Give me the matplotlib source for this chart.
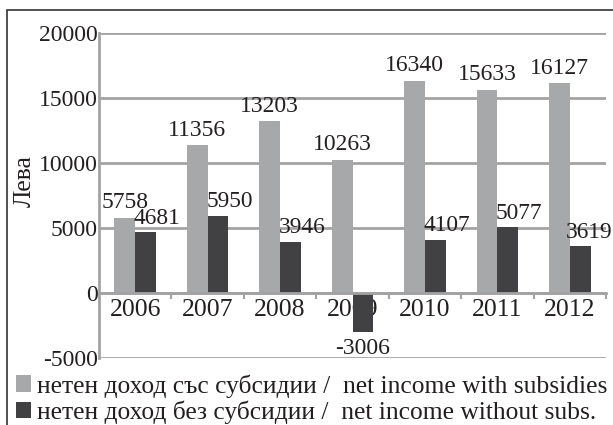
import matplotlib
matplotlib.use("Agg")
import matplotlib.pyplot as plt
import numpy as np
from matplotlib.patches import Rectangle

years = ["2006", "2007", "2008", "2009", "2010", "2011", "2012"]
with_subs = [5758, 11356, 13203, 10263, 16340, 15633, 16127]
without_subs = [4681, 5950, 3946, -3006, 4107, 5077, 3619]
yticks = [-5000, 0, 5000, 10000, 15000, 20000]
label_with = "нетен доход със субсидии /  net income with subsidies"
label_without = "нетен доход без субсидии /  net income without subs."
ylabel = "Лева"

LIGHT = "#a7a8aa"
DARK = "#414143"
GRID = "#a3a3a3"
TXT = "#231f20"
FAM = "Liberation Serif"

plt.rcParams["font.family"] = FAM

W, H = 613, 425
fig = plt.figure(figsize=(W / 100, H / 100), dpi=100)
ax = fig.add_axes([99 / W, 1 - 358 / H, 507 / W, 325 / H])

x = np.arange(len(years))
bw = 0.286
b1 = ax.bar(x - bw / 2, with_subs, bw, color=LIGHT, label=label_with, zorder=3)
b2 = ax.bar(x + bw / 2, without_subs, bw, color=DARK, label=label_without, zorder=3)

ax.set_xlim(-0.5, len(years) - 0.5)
ax.set_ylim(yticks[0], yticks[-1])
ax.set_yticks(yticks)
ax.set_yticklabels([str(v) for v in yticks])
ax.tick_params(axis="y", length=0, pad=1, labelsize=17, labelcolor=TXT)
ax.yaxis.grid(True, color=GRID, linewidth=2, zorder=0)
ax.set_axisbelow(True)

ax.set_xticks(x)
ax.set_xticklabels(years)
ax.set_xticks(np.arange(len(years) + 1) - 0.5, minor=True)
ax.tick_params(axis="x", which="major", length=0, pad=4, labelsize=18.5, labelcolor=TXT)
ax.tick_params(axis="x", which="minor", length=4, width=1.5, color=GRID, direction="out")
for t in ax.get_xticklabels() + ax.get_yticklabels():
    t.set_family(FAM)

for s in ["top", "right"]:
    ax.spines[s].set_visible(False)
ax.spines["bottom"].set_position(("data", 0))
ax.spines["bottom"].set_color(GRID)
ax.spines["bottom"].set_linewidth(2)
ax.spines["bottom"].set_zorder(4)
ax.spines["left"].set_color(GRID)
ax.spines["left"].set_linewidth(2)

ax.set_ylabel(ylabel, fontsize=18.5, color=TXT, family=FAM)
ax.yaxis.set_label_coords(-0.124, 0.545)

# data labels
labels = []
for rect, v in zip(b1, with_subs):
    labels.append(ax.annotate(str(v), (rect.get_x() + rect.get_width() / 2, v),
                  xytext=(0, 7), textcoords="offset points", family=FAM,
                  ha="center", va="baseline", fontsize=17, color=TXT, zorder=5))
for rect, v in zip(b2, without_subs):
    if v >= 0:
        labels.append(ax.annotate(str(v), (rect.get_x(), v),
                      xytext=(-1, 6), textcoords="offset points", family=FAM,
                      ha="left", va="baseline", fontsize=16.8, color=TXT, zorder=5))
    else:
        labels.append(ax.annotate(str(v), (rect.get_x() + rect.get_width() / 2, v),
                      xytext=(0, -4), textcoords="offset points", family=FAM,
                      ha="center", va="top", fontsize=17, color=TXT, zorder=5))

leg = fig.legend(handles=[b1, b2], loc="upper left",
                 bbox_to_anchor=(16 / W, 1 - 374 / H),
                 frameon=False, prop={"family": FAM, "size": 18.4},
                 handlelength=0.59, handleheight=0.59, handletextpad=0.22,
                 labelspacing=0.1, borderpad=0, borderaxespad=0)
for t in leg.get_texts():
    t.set_color(TXT)

# keep data labels inside the figure's right edge (as in the reference)
fig.canvas.draw()
r = fig.canvas.get_renderer()
for t in labels:
    bb = t.get_window_extent(r)
    over = bb.x1 - (W - 1)
    if over > 0:
        ox, oy = t.xyann
        t.xyann = (ox - over * 72 / fig.dpi, oy)

# outer frame
fig.patches.append(Rectangle((7 / W, -0.1), 1.2, 1 - 10 / H + 0.1,
                             transform=fig.transFigure, fill=False,
                             edgecolor="#333333", linewidth=1.2))

fig.savefig("out.png", dpi=100)
